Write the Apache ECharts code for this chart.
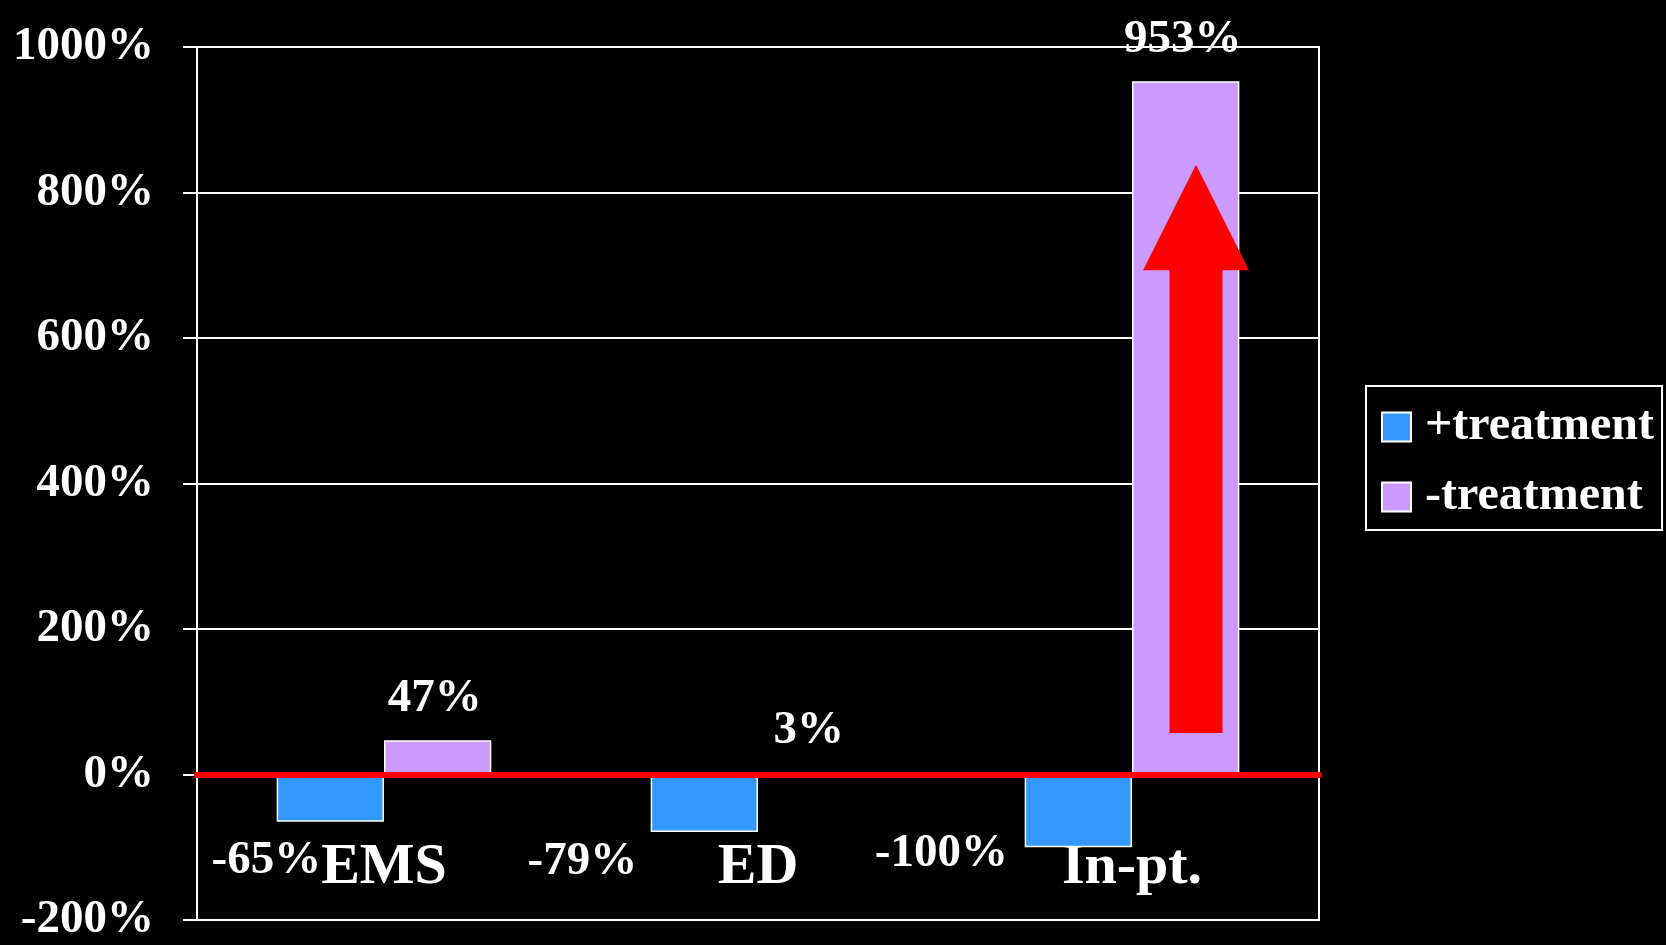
<!DOCTYPE html>
<html>
<head>
<meta charset="utf-8">
<script src="https://cdn.jsdelivr.net/npm/echarts@6/dist/echarts.min.js"></script>
<style>
html,body{margin:0;padding:0;background:#000;}
#main{width:1666px;height:945px;}
</style>
</head>
<body>
<div id="main"></div>
<script>
var categories = ['EMS', 'ED', 'In-pt.'];
var seriesNames = ['+treatment', '-treatment'];
var withTreatment = [-65, -79, -100];
var withoutTreatment = [47, 3, 953];
var yTicks = { min: -200, max: 1000, interval: 200 };
var arrowValues = { base: 57, headBase: 693, tip: 838 };

var FONT = '"Liberation Serif", "Times New Roman", serif';
var BLUE = '#3399FF', PURPLE = '#CC99FF', RED = '#FF0000';

// per-item label nudges for the +treatment labels (manual placement in original)
var blueLabelOffsets = [[-64, 11], [-122, 1], [-137, -22]];

var chart = echarts.init(document.getElementById('main'), null, { renderer: 'canvas' });

var blueData = withTreatment.map(function (v, i) {
  return { value: v, label: { offset: blueLabelOffsets[i] } };
});

var option = {
  backgroundColor: '#000',
  animation: false,
  grid: {
    left: 197, right: 347, top: 47, bottom: 25,
    show: true, borderColor: '#fff', borderWidth: 2, backgroundColor: 'transparent'
  },
  legend: {
    orient: 'vertical',
    left: 1366, top: 386,
    padding: [16, 8, 8, 15],
    itemGap: 20,
    itemWidth: 29, itemHeight: 29,
    borderColor: '#fff', borderWidth: 2,
    icon: 'rect',
    itemStyle: { borderColor: '#fff', borderWidth: 2 },
    textStyle: { color: '#fff', fontFamily: FONT, fontWeight: 'bold', fontSize: 48, lineHeight: 50, padding: [0, 0, 0, 9] },
    data: seriesNames
  },
  xAxis: {
    type: 'category',
    data: categories,
    axisLine: { show: true, onZero: false, lineStyle: { color: '#fff', width: 2 } },
    axisTick: { show: false },
    axisLabel: { inside: true, margin: 23, color: '#fff', fontFamily: FONT, fontWeight: 'bold', fontSize: 58, lineHeight: 58 },
    splitLine: { show: false }
  },
  yAxis: {
    type: 'value',
    min: yTicks.min, max: yTicks.max, interval: yTicks.interval,
    axisLine: { show: true, lineStyle: { color: '#fff', width: 2 } },
    axisTick: { show: true, length: 14, lineStyle: { color: '#fff', width: 2 } },
    axisLabel: {
      margin: 43, color: '#fff', fontFamily: FONT, fontWeight: 'bold', fontSize: 47,
      formatter: function (v) { return v + '%'; }
    },
    splitLine: { show: true, lineStyle: { color: '#fff', width: 2 } }
  },
  series: [
    {
      name: seriesNames[0],
      type: 'bar',
      data: blueData,
      barWidth: '28.7%',
      barGap: '0%',
      itemStyle: { color: BLUE, borderColor: '#fff', borderWidth: 1.5 },
      label: {
        show: true, position: 'bottom', distance: 5,
        color: '#fff', fontFamily: FONT, fontWeight: 'bold', fontSize: 47,
        formatter: '{c}%'
      },
      markLine: {
        silent: true,
        symbol: 'none',
        label: { show: false },
        lineStyle: { color: RED, width: 6, type: 'solid', cap: 'round' },
        data: [{ yAxis: 0 }],
        z: 10
      }
    },
    {
      name: seriesNames[1],
      type: 'bar',
      data: withoutTreatment,
      barWidth: '28.7%',
      barGap: '0%',
      itemStyle: { color: PURPLE, borderColor: '#fff', borderWidth: 1.5 },
      label: {
        show: true, position: 'top', distance: 18, offset: [-3, 0],
        color: '#fff', fontFamily: FONT, fontWeight: 'bold', fontSize: 47,
        formatter: '{c}%'
      }
    }
  ]
};

chart.setOption(option);

function drawArrow() {
  var idx = categories.indexOf('In-pt.');
  var pBase = chart.convertToPixel({ xAxisIndex: 0, yAxisIndex: 0 }, [idx, arrowValues.base]);
  var pHead = chart.convertToPixel({ xAxisIndex: 0, yAxisIndex: 0 }, [idx, arrowValues.headBase]);
  var pTip = chart.convertToPixel({ xAxisIndex: 0, yAxisIndex: 0 }, [idx, arrowValues.tip]);
  var cx = pBase[0] + 64;
  var shaftHalf = 26.5, headHalf = 53;
  chart.setOption({
    graphic: [{
      type: 'polygon',
      z: 100,
      shape: {
        points: [
          [cx - shaftHalf, pBase[1]],
          [cx - shaftHalf, pHead[1]],
          [cx - headHalf, pHead[1]],
          [cx, pTip[1]],
          [cx + headHalf, pHead[1]],
          [cx + shaftHalf, pHead[1]],
          [cx + shaftHalf, pBase[1]]
        ]
      },
      style: { fill: RED }
    }]
  });
}
drawArrow();
</script>
</body>
</html>
